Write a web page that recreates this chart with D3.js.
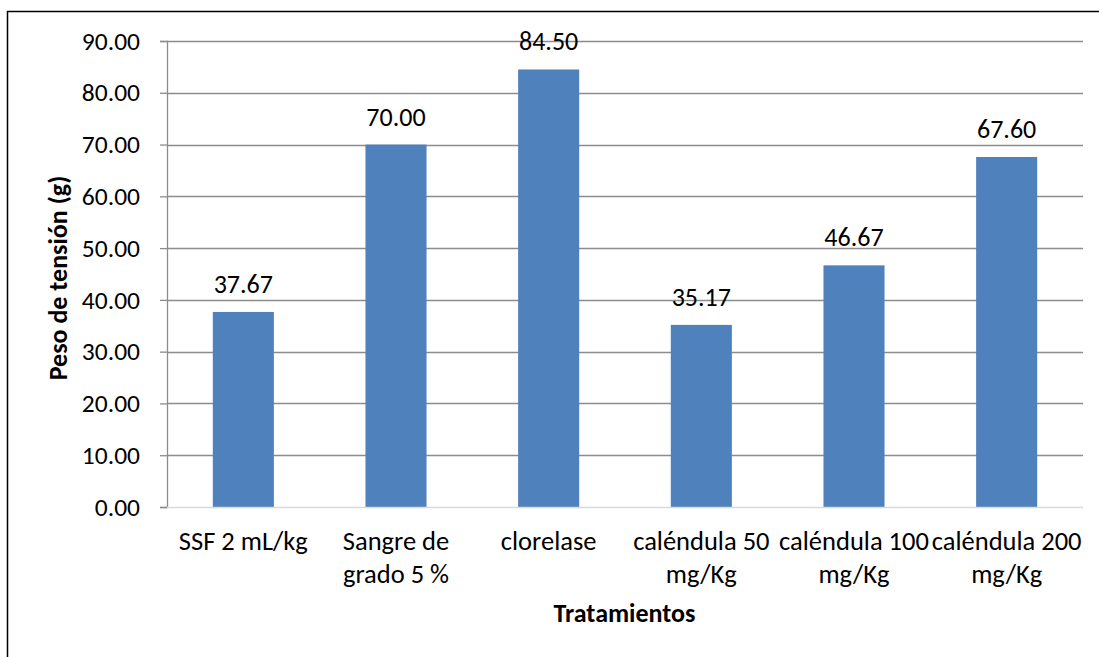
<!DOCTYPE html>
<html><head><meta charset="utf-8">
<script src="https://cdn.jsdelivr.net/npm/d3@7"></script>
<style>body{margin:0;background:#fff;} svg{display:block;font-family:Carlito,Lato,"Liberation Sans",sans-serif;}</style>
</head><body>
<script>
const categories = ["SSF 2 mL/kg", "Sangre de\ngrado 5 %", "clorelase", "caléndula 50\nmg/Kg", "caléndula 100\nmg/Kg", "caléndula 200\nmg/Kg"];
const values = [37.67, 70.00, 84.50, 35.17, 46.67, 67.60];
const yTicks = [0, 10, 20, 30, 40, 50, 60, 70, 80, 90];
const yTitle = "Peso de tensión (g)";
const xTitle = "Tratamientos";

const W = 1099, H = 657;
const svg = d3.select("body").append("svg").attr("width", W).attr("height", H);
svg.append("rect").attr("x", 7.5).attr("y", 11.5).attr("width", W).attr("height", H).attr("fill", "none").attr("stroke", "#000").attr("stroke-width", 1.5);

const pLeft = 167, pRight = 1083, pTop = 41, pBottom = 507;
const x = d3.scaleBand().domain(categories).range([pLeft, pRight]).paddingInner(0.6).paddingOuter(0.3);
const y = d3.scaleLinear().domain([0, 90]).range([pBottom, pTop]);

// gridlines
svg.append("g").selectAll("line").data(yTicks.filter(d => d > 0)).join("line")
  .attr("x1", pLeft).attr("x2", pRight).attr("y1", d => Math.round(y(d)) + 0.5).attr("y2", d => Math.round(y(d)) + 0.5)
  .attr("stroke", "#8c8c8c").attr("stroke-width", 1.3);

// y axis
const ya = svg.append("g").attr("transform", `translate(${pLeft},0)`)
  .call(d3.axisLeft(y).tickValues(yTicks).tickFormat(d3.format(".2f")).tickSize(7).tickPadding(20));
ya.select(".domain").attr("stroke", "#8c8c8c").attr("stroke-width", 1.3);
ya.selectAll(".tick line").attr("stroke", "#8c8c8c").attr("stroke-width", 1.3);
ya.selectAll(".tick text").attr("font-size", 25.5).attr("fill", "#000").attr("font-family", "Carlito,Lato,sans-serif");

// bars
svg.append("g").selectAll("rect").data(values).join("rect")
  .attr("x", (d, i) => x(categories[i])).attr("width", x.bandwidth())
  .attr("y", d => y(d)).attr("height", d => y(0) - y(d)).attr("fill", "#4F81BD");

// x axis baseline
svg.append("line").attr("x1", pLeft).attr("x2", pRight).attr("y1", pBottom + 0.5).attr("y2", pBottom + 0.5)
  .attr("stroke", "#d9d9d9").attr("stroke-width", 1.5);

// data labels
svg.append("g").selectAll("text").data(values).join("text")
  .attr("x", (d, i) => x(categories[i]) + x.bandwidth() / 2).attr("y", d => y(d) - 19)
  .attr("text-anchor", "middle").attr("font-size", 26).attr("fill", "#000")
  .text(d => d3.format(".2f")(d));

// x labels
const xl = svg.append("g").selectAll("text").data(categories).join("text")
  .attr("x", d => x(d) + x.bandwidth() / 2).attr("y", 550)
  .attr("text-anchor", "middle").attr("font-size", 26.5).attr("fill", "#000");
xl.each(function(d) {
  const lines = d.split("\n");
  d3.select(this).selectAll("tspan").data(lines).join("tspan")
    .attr("x", x(d) + x.bandwidth() / 2).attr("dy", (l, i) => i === 0 ? 0 : 33).text(l => l);
});

// titles
svg.append("text").attr("x", 624.5).attr("y", 622).attr("text-anchor", "middle")
  .attr("font-size", 26).attr("font-weight", "bold").text(xTitle);
svg.append("text").attr("transform", `translate(67,278) rotate(-90)`).attr("text-anchor", "middle")
  .attr("font-size", 26).attr("font-weight", "bold").text(yTitle);
</script>
</body></html>
